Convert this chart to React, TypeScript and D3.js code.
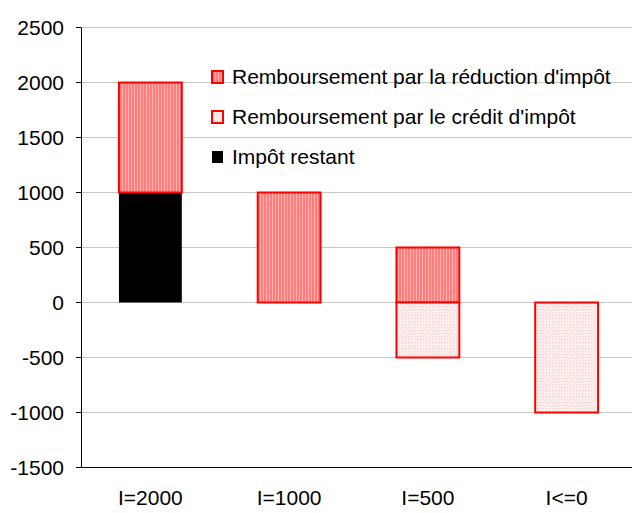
import React from "react";
import * as d3 from "d3";

const categories = ["I=2000", "I=1000", "I=500", "I<=0"];
const impotRestant = [1000, 0, 0, 0];
const reduction = [1000, 1000, 500, 0];
const credit = [0, 0, -500, -1000];
const yTicks = [-1500, -1000, -500, 0, 500, 1000, 1500, 2000, 2500];
const legendLabels = [
  "Remboursement par la réduction d'impôt",
  "Remboursement par le crédit d'impôt",
  "Impôt restant",
];

const W = 632;
const H = 513;
const FONT = "'Liberation Sans', Arial, sans-serif";
const FS = 21;

export default function App() {
  const y = d3.scaleLinear().domain([-1500, 2500]).range([467.5, 27.5]);
  const x = d3
    .scaleBand<string>()
    .domain(categories)
    .range([81, 636])
    .paddingInner(0.547)
    .paddingOuter(0.2735);
  const bw = x.bandwidth();

  const rects: { x: number; y0: number; y1: number; fill: string; stroke: string }[] = [];
  categories.forEach((c, i) => {
    const bx = x(c)!;
    if (impotRestant[i] !== 0)
      rects.push({ x: bx, y0: 0, y1: impotRestant[i], fill: "#000", stroke: "none" });
    if (reduction[i] !== 0)
      rects.push({
        x: bx,
        y0: impotRestant[i],
        y1: impotRestant[i] + reduction[i],
        fill: "url(#stripes)",
        stroke: "#ff0000",
      });
    if (credit[i] !== 0)
      rects.push({ x: bx, y0: credit[i], y1: 0, fill: "url(#dots)", stroke: "#ff0000" });
  });

  const legendFills = ["url(#stripes)", "url(#dots)", "#000"];
  const legendStrokes = ["#ff0000", "#ff0000", "none"];

  return (
    <svg
      width={W}
      height={H}
      style={{ position: "absolute", left: 0, top: 0, display: "block", background: "#fff" }}
      fontFamily={FONT}
    >
      <defs>
        <pattern id="stripes" width="3" height="3" patternUnits="userSpaceOnUse">
          <rect width="3" height="3" fill="#ffb4b4" />
          <rect width="2" height="3" fill="#ff7d7d" />
        </pattern>
        <pattern id="dots" width="3" height="3" patternUnits="userSpaceOnUse">
          <rect width="3" height="3" fill="#fff0f0" />
          <rect width="1" height="1" fill="#ffc4c4" />
          <rect x="1" y="1" width="1" height="1" fill="#ffdada" />
        </pattern>
      </defs>
      <rect width={W} height={H} fill="#fff" />
      {yTicks
        .filter((t) => t !== -1500)
        .map((t) => (
          <line key={"g" + t} x1={81} x2={632} y1={y(t)} y2={y(t)} stroke="#c8c8c8" strokeWidth={1} />
        ))}
      {rects.map((r, i) => (
        <rect
          key={i}
          x={r.x}
          y={y(r.y1)}
          width={bw}
          height={y(r.y0) - y(r.y1)}
          fill={r.fill}
          stroke={r.stroke}
          strokeWidth={2}
        />
      ))}
      <line x1={81.5} x2={81.5} y1={y(2500)} y2={y(-1500)} stroke="#000" />
      {yTicks.map((t) => (
        <g key={"t" + t}>
          <line x1={76} x2={81} y1={y(t)} y2={y(t)} stroke="#000" />
          <text x={64} y={y(t)} dy="0.35em" textAnchor="end" fontSize={FS} fill="#000">
            {t}
          </text>
        </g>
      ))}
      <line x1={76} x2={632} y1={y(-1500)} y2={y(-1500)} stroke="#000" />
      {categories.map((c) => (
        <text
          key={c}
          x={x(c)! + bw / 2}
          y={505}
          textAnchor="middle"
          fontSize={FS}
          fill="#000"
        >
          {c}
        </text>
      ))}
      {legendLabels.map((l, i) => (
        <g key={l} transform={`translate(0, ${77 + i * 40})`}>
          <rect
            x={212}
            y={-6}
            width={11}
            height={12}
            fill={legendFills[i]}
            stroke={legendStrokes[i]}
            strokeWidth={2}
          />
          <text x={232} y={0} dy="0.35em" fontSize={FS} fill="#000">
            {l}
          </text>
        </g>
      ))}
    </svg>
  );
}
